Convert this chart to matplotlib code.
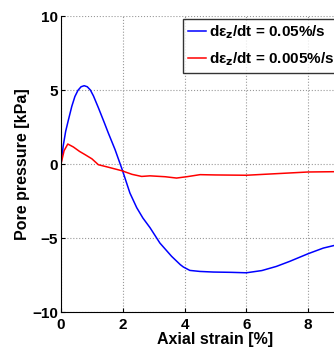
import numpy as np
import matplotlib
matplotlib.use("Agg")
import matplotlib.pyplot as plt

plt.rcParams['font.family'] = ['Liberation Sans', 'DejaVu Sans']
plt.rcParams['font.weight'] = 'bold'
plt.rcParams['mathtext.default'] = 'bf'

# blue series: 0.05 %/s
x_fast = [0.0, 0.07, 0.15, 0.24, 0.35, 0.45, 0.55, 0.65, 0.75, 0.85, 0.95, 1.05, 1.21,
          1.4, 1.53, 1.75, 1.98, 2.23, 2.45, 2.65, 2.88, 3.2, 3.58, 3.86, 3.96, 4.17, 4.5,
          4.93, 5.5, 6.0, 6.5, 6.97, 7.4, 8.0, 8.49, 8.85]
y_fast = [0.0, 1.2, 2.2, 2.98, 3.9, 4.56, 4.98, 5.22, 5.29, 5.22, 5.0, 4.6, 3.8,
          2.8, 2.1, 0.97, -0.38, -1.96, -2.95, -3.65, -4.3, -5.34, -6.24, -6.8, -6.96, -7.19, -7.26,
          -7.3, -7.32, -7.35, -7.2, -6.92, -6.58, -6.06, -5.68, -5.5]

# red series: 0.005 %/s
x_slow = [0.0, 0.1, 0.22, 0.4, 0.6, 0.78, 1.0, 1.21, 1.5, 1.96, 2.3, 2.61, 2.88, 3.37,
          3.74, 4.1, 4.5, 5.0, 6.0, 7.0, 8.0, 8.85]
y_slow = [0.0, 0.9, 1.35, 1.15, 0.85, 0.63, 0.35, -0.05, -0.2, -0.45, -0.7, -0.84, -0.8, -0.86,
          -0.95, -0.85, -0.72, -0.74, -0.76, -0.65, -0.54, -0.52]

labels = ['d\u03b5$_z$/dt = 0.05%/s', 'd\u03b5$_z$/dt = 0.005%/s']
xticks = [0, 2, 4, 6, 8]
yticks = [-10, -5, 0, 5, 10]

fig = plt.figure(figsize=(3.34, 3.49), dpi=100)
ax = fig.add_axes([61 / 334, 37 / 349, 309 / 334, 296 / 349])

l1, = ax.plot(x_fast, y_fast, color='#0000ff', lw=1.1)
l2, = ax.plot(x_slow, y_slow, color='#ff0000', lw=1.1)

ax.set_xlim(0, 10)
ax.set_ylim(-10, 10)
ax.set_xticks(xticks)
ax.set_yticks(yticks)
ax.set_yticklabels(['\u221210', '\u22125', '0', '5', '10'])
ax.tick_params(direction='in', labelsize=11, length=3, pad=2)
ax.tick_params(axis='x', pad=4)
ax.grid(True, linestyle=':', color='#999999', lw=0.8)
ax.spines['top'].set_visible(False)
ax.spines['right'].set_visible(False)
ax.set_xlabel('Axial strain [%]', fontsize=11.5, fontweight='bold', labelpad=0)
ax.set_ylabel('Pore pressure [kPa]', fontsize=11.5, fontweight='bold', labelpad=2)

leg = fig.legend([l1, l2], labels, loc='upper left', bbox_to_anchor=(183 / 334, 1 - 19 / 349),
                 fontsize=11, frameon=True, fancybox=False, handlelength=1.2,
                 handletextpad=0.2, borderpad=0.3, labelspacing=0.6, borderaxespad=0)
leg.get_frame().set_edgecolor('black')
leg.get_frame().set_linewidth(1.0)

fig.savefig('out.png', dpi=100)
